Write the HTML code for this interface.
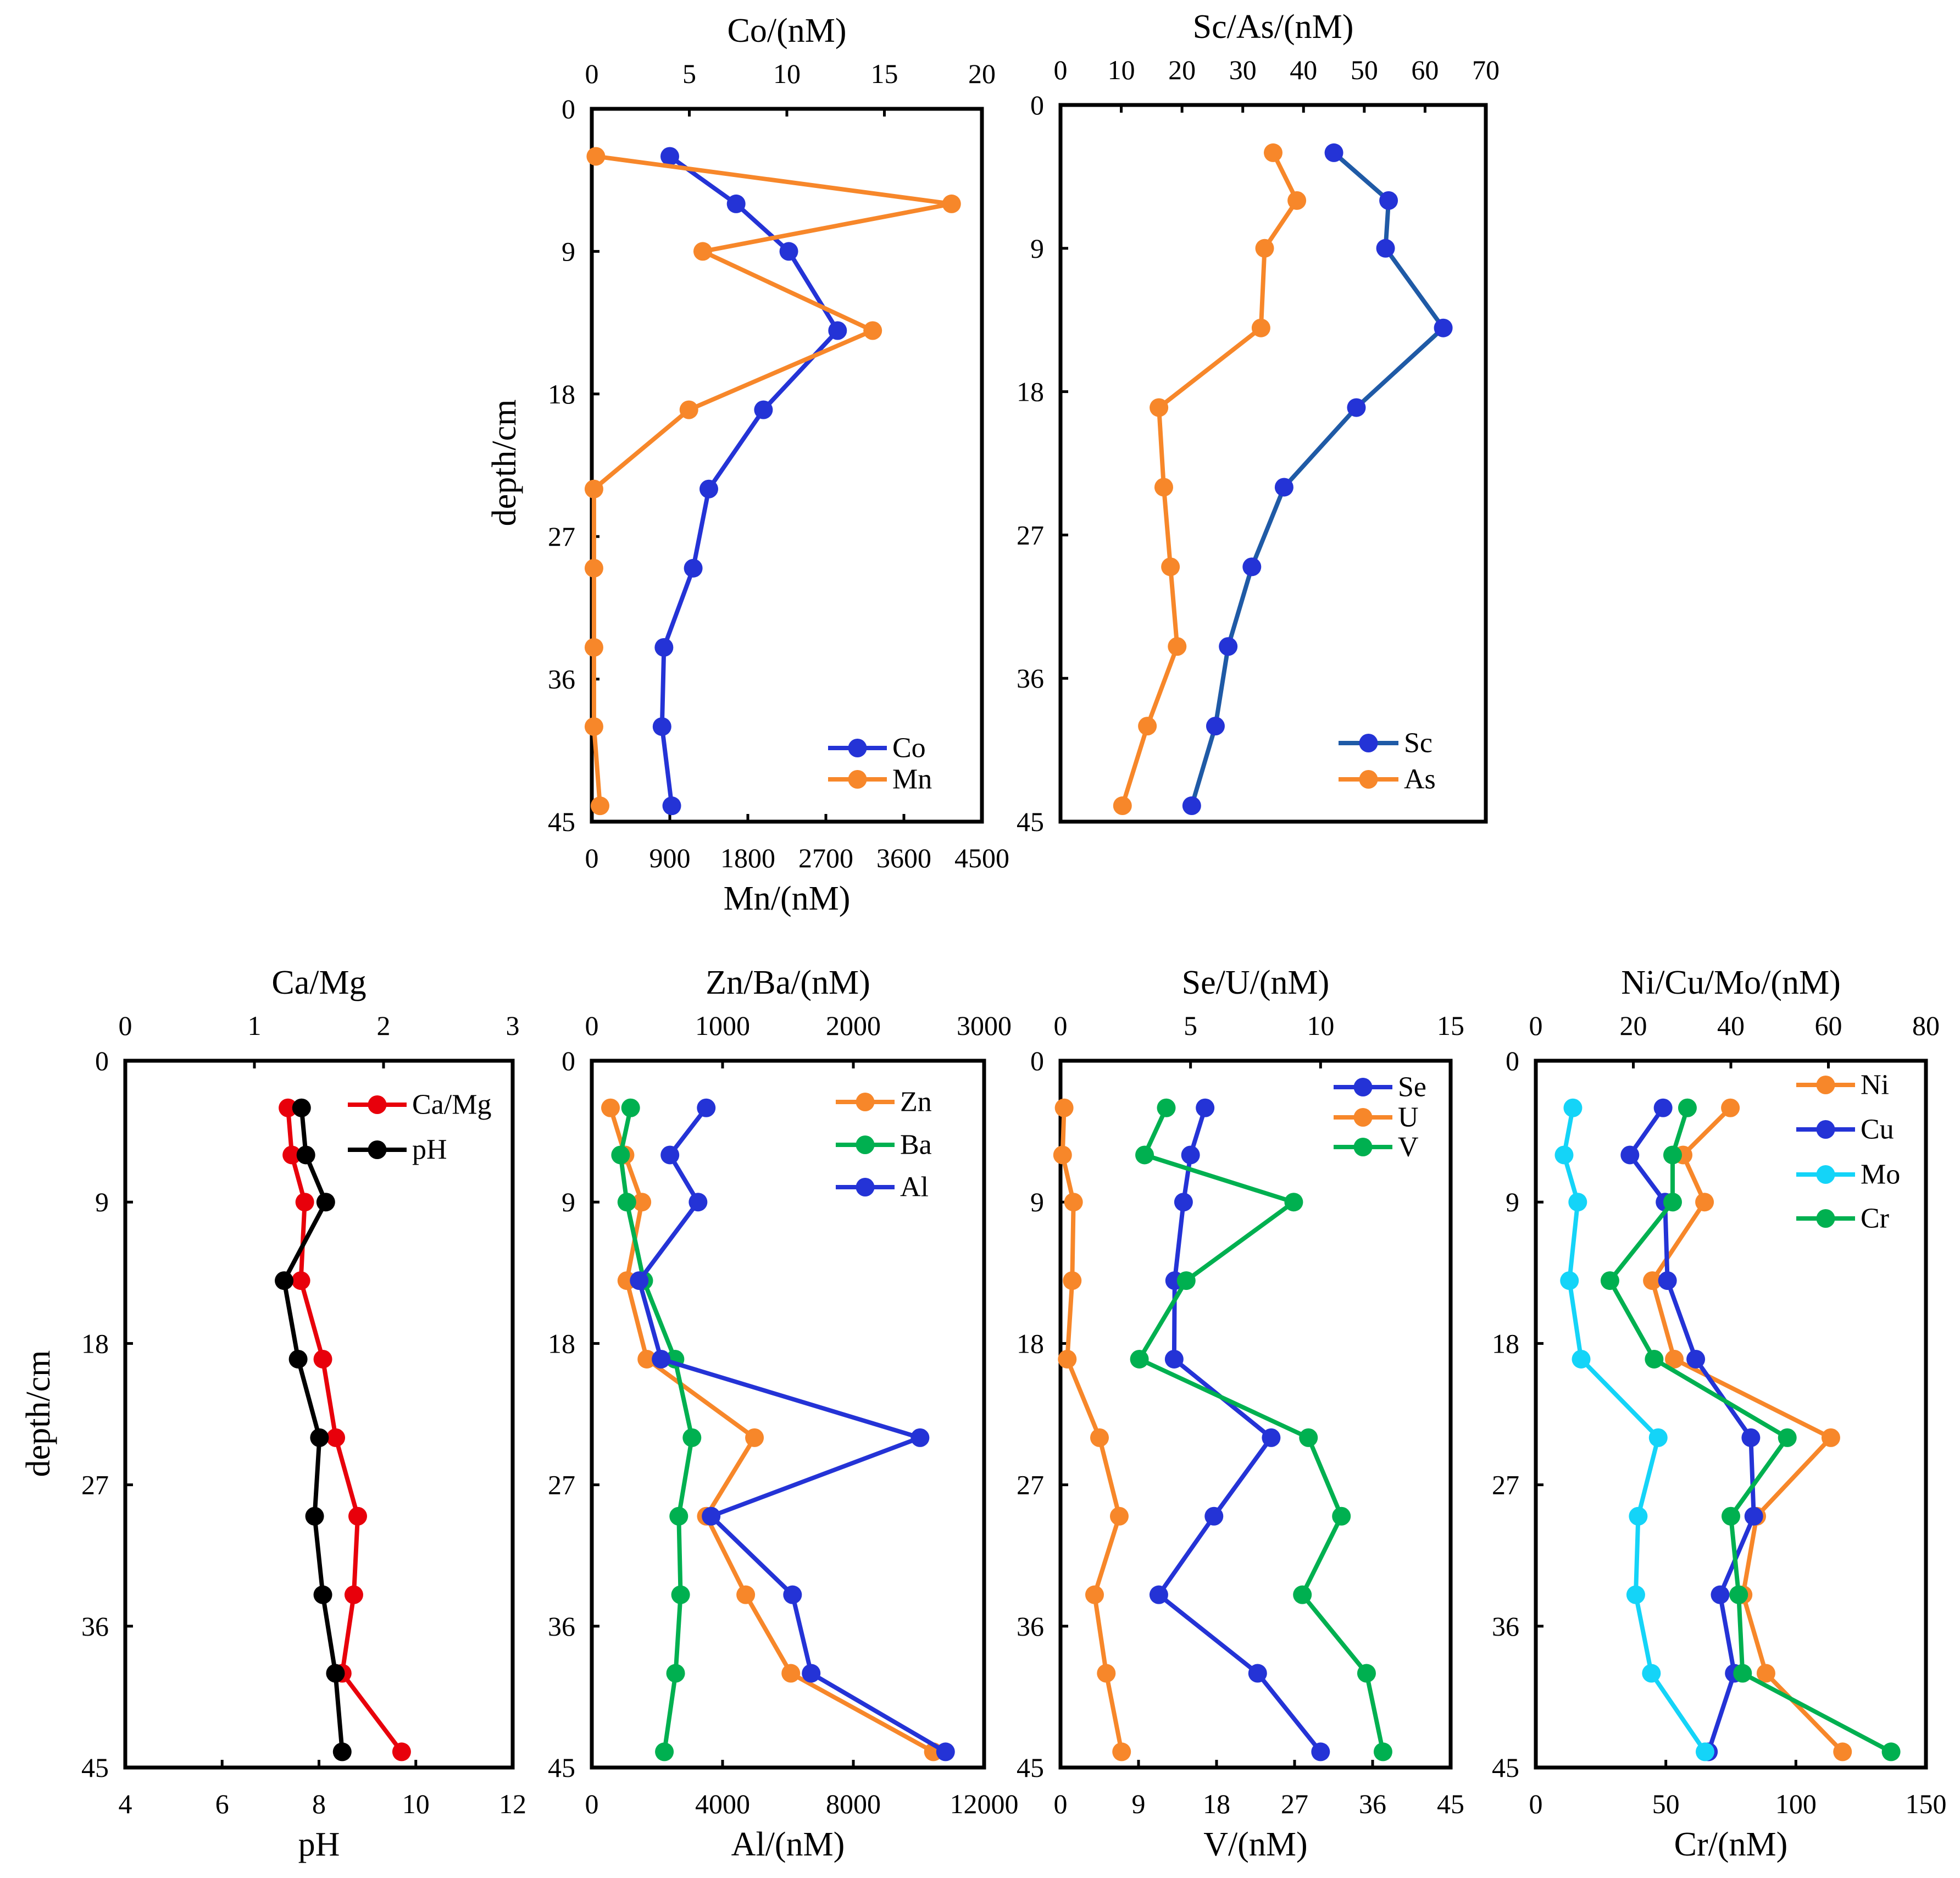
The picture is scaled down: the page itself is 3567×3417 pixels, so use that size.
<!DOCTYPE html>
<html><head><meta charset="utf-8"><style>
html,body{margin:0;padding:0;background:#fff}
svg{display:block}
text{font-family:"Liberation Serif","DejaVu Serif",serif;fill:#000}
</style></head><body>
<svg id="fig" width="3567" height="3417" viewBox="0 0 3567 3417" xmlns="http://www.w3.org/2000/svg"></svg>
<script>
const depths=[3,6,9,14,19,24,29,34,39,44];
const depthTicks=[0,9,18,27,36,45];
const coVals=[4.0,7.4,10.1,12.6,8.8,6.0,5.2,3.7,3.6,4.1];
const mnVals=[47,4150,1280,3240,1120,25,25,25,25,95];
const coTicks=[0,5,10,15,20];
const mnTicks=[0,900,1800,2700,3600,4500];
const scVals=[45,54,53.5,63,48.7,36.8,31.5,27.6,25.5,21.6];
const asVals=[35,38.9,33.6,33,16.2,17,18.1,19.2,14.3,10.2];
const scTicks=[0,10,20,30,40,50,60,70];
const caMgVals=[1.26,1.29,1.39,1.36,1.53,1.63,1.80,1.77,1.68,2.14];
const phVals=[7.64,7.73,8.14,7.28,7.57,8.01,7.91,8.08,8.34,8.48];
const caMgTicks=[0,1,2,3];
const phTicks=[4,6,8,10,12];
const znVals=[143,254,383,268,421,1244,876,1177,1522,2612];
const baVals=[297,220,268,397,636,766,665,679,641,555];
const alVals=[3500,2390,3250,1450,2120,10040,3650,6140,6710,10820];
const znTicks=[0,1000,2000,3000];
const alTicks=[0,4000,8000,12000];
const seVals=[5.56,5.0,4.73,4.39,4.37,8.1,5.9,3.78,7.58,10.0];
const uVals=[0.14,0.08,0.5,0.45,0.26,1.5,2.26,1.31,1.76,2.35];
const vVals=[12.2,9.7,26.9,14.5,9.1,28.6,32.4,27.9,35.3,37.2];
const seTicks=[0,5,10,15];
const vTicks=[0,9,18,27,36,45];
const niVals=[39.9,30.2,34.6,23.9,28.4,60.5,45.3,42.5,47.2,62.9];
const cuVals=[26.1,19.3,26.5,27,32.8,44.1,44.7,37.8,40.7,35.4];
const moVals=[7.6,5.8,8.6,6.9,9.3,25.1,21,20.5,23.7,34.7];
const crVals=[58.3,52.6,52.6,28.5,45.5,96.7,75,78,79.5,136.6];
const niTicks=[0,20,40,60,80];
const crTicks=[0,50,100,150];

const BLUE='#2433d6',ORANGE='#f7872a',GREEN='#00b050',RED='#e8000b',CYAN='#14d4f8',BLACK='#000',SCLINE='#1f5aa6';
const NS='http://www.w3.org/2000/svg';
const svg=document.getElementById('fig');
function mk(tag,attrs,parent){const e=document.createElementNS(NS,tag);for(const k in attrs)e.setAttribute(k,attrs[k]);(parent||svg).appendChild(e);return e;}
function txt(s,x,y,size,anchor,parent){const t=mk('text',{x:x,y:y,'font-size':size,'text-anchor':anchor||'middle','dominant-baseline':'central'},parent);t.textContent=s;return t;}

function panel(p){
  const g=mk('g',{});
  
  
  const L=p.x0,R=p.x1,T=p.y0,B=p.y1;
  const yS=d=>T+(d/45)*(B-T);
  const topS=v=>L+(v-p.topT[0])/(p.topT[p.topT.length-1]-p.topT[0])*(R-L);
  const botS=v=>L+(v-p.botT[0])/(p.botT[p.botT.length-1]-p.botT[0])*(R-L);
  const fr=mk('rect',{x:L,y:T,width:R-L,height:B-T,fill:'none',stroke:'#000','stroke-width':7},g);
  
  
  depthTicks.forEach(d=>{
    const y=yS(d);
    if(d>0&&d<45)mk('line',{x1:L,y1:y,x2:L+14,y2:y,stroke:'#000','stroke-width':5},g);
    const t=txt(String(d),L-30,y,50,'end',g);
    
    
  });
  p.topT.forEach((v,i)=>{
    const x=topS(v);
    if(i>0&&i<p.topT.length-1)mk('line',{x1:x,y1:T,x2:x,y2:T+14,stroke:'#000','stroke-width':5},g);
    const t=txt(String(v),x,T-64,50,'middle',g);
    
    
  });
  if(p.botT){
    p.botT.forEach((v,i)=>{
      const x=botS(v);
      if(i>0&&i<p.botT.length-1)mk('line',{x1:x,y1:B,x2:x,y2:B-14,stroke:'#000','stroke-width':5},g);
      const t=txt(String(v),x,B+66,50,'middle',g);
      
      
    });
    const bt=txt(p.botTitle,(L+R)/2,B+140,62,'middle',g);
    
    
  }
  const tt=txt(p.topTitle,(L+R)/2,T-142,62,'middle',g);
  
  
  if(p.depthLabel){
    const dl=mk('text',{x:0,y:0,'font-size':62,'text-anchor':'middle','dominant-baseline':'central',transform:`translate(${p.depthLabel[0]},${p.depthLabel[1]}) rotate(-90)`},g);
    dl.textContent='depth/cm';
    
    
  }
  p.series.forEach((s,si)=>{
    const sc=s.axis==='top'?topS:botS;
    const sg=mk('g',{},g);
    
    
    const pts=s.vals.map((v,i)=>[sc(v),yS(depths[i])]);
    mk('polyline',{points:pts.map(q=>q.join(',')).join(' '),fill:'none',stroke:s.line||s.color,'stroke-width':8,'stroke-linejoin':'round'},sg);
    pts.forEach(q=>{
      const c=mk('circle',{cx:q[0],cy:q[1],r:17,fill:s.color},sg);
      
      
    });
    const lg=p.legend;
    const ly=lg.ys[si];
    const le=mk('g',{},g);
    
    
    mk('line',{x1:lg.x0,y1:ly,x2:lg.x1,y2:ly,stroke:s.line||s.color,'stroke-width':8},le);
    mk('circle',{cx:(lg.x0+lg.x1)/2,cy:ly,r:17,fill:s.color},le);
    txt(s.label,lg.x1+10,ly,52,'start',le);
  });
}

panel({name:'co-mn-panel',x0:1077,x1:1787,y0:198,y1:1495,topT:coTicks,botT:mnTicks,topTitle:'Co/(nM)',botTitle:'Mn/(nM)',depthLabel:[918,842],
  series:[{label:'Co',vals:coVals,axis:'top',color:BLUE},{label:'Mn',vals:mnVals,axis:'bot',color:ORANGE}],
  legend:{x0:1507,x1:1614,ys:[1361,1418]}});
panel({name:'sc-as-panel',x0:1930,x1:2704,y0:191,y1:1495,topT:scTicks,botT:null,topTitle:'Sc/As/(nM)',
  series:[{label:'Sc',vals:scVals,axis:'top',color:BLUE,line:SCLINE},{label:'As',vals:asVals,axis:'top',color:ORANGE}],
  legend:{x0:2436,x1:2545,ys:[1352,1418]}});
panel({name:'ca-mg-ph-panel',x0:228,x1:933,y0:1930,y1:3216,topT:caMgTicks,botT:phTicks,topTitle:'Ca/Mg',botTitle:'pH',depthLabel:[70,2572],
  series:[{label:'Ca/Mg',vals:caMgVals,axis:'top',color:RED},{label:'pH',vals:phVals,axis:'bot',color:BLACK}],
  legend:{x0:633,x1:740,ys:[2010,2092]}});
panel({name:'zn-ba-al-panel',x0:1077,x1:1791,y0:1930,y1:3216,topT:znTicks,botT:alTicks,topTitle:'Zn/Ba/(nM)',botTitle:'Al/(nM)',
  series:[{label:'Zn',vals:znVals,axis:'top',color:ORANGE},{label:'Ba',vals:baVals,axis:'top',color:GREEN},{label:'Al',vals:alVals,axis:'bot',color:BLUE}],
  legend:{x0:1521,x1:1628,ys:[2005,2083,2160]}});
panel({name:'se-u-v-panel',x0:1930,x1:2640,y0:1930,y1:3216,topT:seTicks,botT:vTicks,topTitle:'Se/U/(nM)',botTitle:'V/(nM)',
  series:[{label:'Se',vals:seVals,axis:'top',color:BLUE},{label:'U',vals:uVals,axis:'top',color:ORANGE},{label:'V',vals:vVals,axis:'bot',color:GREEN}],
  legend:{x0:2427,x1:2534,ys:[1978,2033,2087]}});
panel({name:'ni-cu-mo-cr-panel',x0:2795,x1:3505,y0:1930,y1:3216,topT:niTicks,botT:crTicks,topTitle:'Ni/Cu/Mo/(nM)',botTitle:'Cr/(nM)',
  series:[{label:'Ni',vals:niVals,axis:'top',color:ORANGE},{label:'Cu',vals:cuVals,axis:'top',color:BLUE},{label:'Mo',vals:moVals,axis:'top',color:CYAN},{label:'Cr',vals:crVals,axis:'bot',color:GREEN}],
  legend:{x0:3269,x1:3376,ys:[1974,2055,2137,2217]}});
</script>
</body></html>
